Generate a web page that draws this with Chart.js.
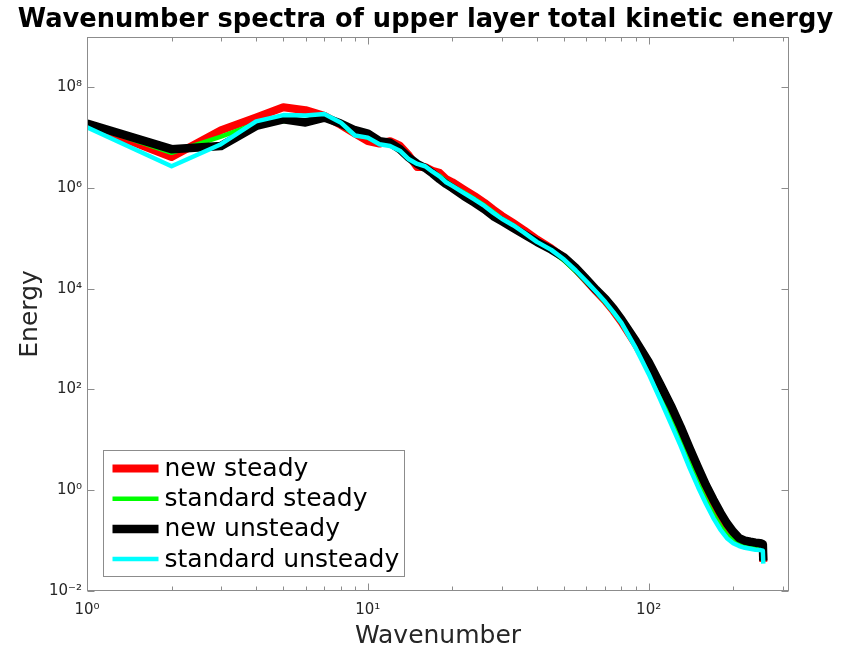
<!DOCTYPE html>
<html>
<head>
<meta charset="utf-8">
<script src="https://cdn.jsdelivr.net/npm/chart.js@4"></script>
<style>
  html, body { margin: 0; padding: 0; background: #ffffff; }
  #wrap { width: 851px; height: 651px; }
</style>
</head>
<body>
<div id="wrap"><canvas id="spectra" width="851" height="651"></canvas></div>
<script>
// Wavenumbers at which the spectra are plotted
const wavenumbers = [1, 2, 3, 4, 5, 6, 7, 8, 9, 10, 11, 12, 13, 14, 15, 16, 17, 18, 19, 20,
  22, 24, 26, 28, 30, 33, 36, 40, 45, 50, 55, 60, 65, 70, 75, 80, 90, 100, 110, 120,
  130, 140, 150, 160, 170, 180, 190, 200, 210, 220, 230, 240, 250, 255, 256];

// Upper layer total kinetic energy for each run
const newSteady = [1.85e7, 4.1e6, 1.4e7, 2.5e7, 4.0e7, 3.5e7, 2.7e7, 1.8e7, 1.2e7, 8.5e6,
  7.6e6, 8.5e6, 6.9e6, 4.4e6, 2.6e6, 2.6e6, 2.2e6, 2.0e6, 1.5e6, 1.3e6,
  9.3e5, 6.9e5, 5.1e5, 3.7e5, 2.8e5, 2.0e5, 1.45e5, 9.5e4, 6.3e4, 4.1e4,
  2.45e4, 1.45e4, 8.9e3, 5.8e3, 3.6e3, 2.2e3, 790, 275, 95, 35,
  13, 4.9, 2.0, 0.95, 0.49, 0.28, 0.18, 0.126, 0.100, 0.089,
  0.083, 0.079, 0.078, 0.076, 0.038];

const standardSteady = [1.85e7, 5.0e6, 1.05e7, 1.9e7, 2.1e7, 2.2e7, 2.4e7, 1.8e7, 1.15e7, 1.0e7,
  7.8e6, 7.2e6, 5.8e6, 3.8e6, 2.9e6, 2.7e6, 2.1e6, 1.75e6, 1.35e6, 1.1e6,
  8.1e5, 6.0e5, 4.5e5, 3.3e5, 2.45e5, 1.8e5, 1.3e5, 8.3e4, 5.6e4, 3.6e4,
  2.2e4, 1.35e4, 8.5e3, 5.4e3, 3.4e3, 2.1e3, 710, 230, 72, 25,
  8.9, 3.3, 1.35, 0.63, 0.33, 0.195, 0.129, 0.100, 0.085, 0.078,
  0.074, 0.071, 0.069, 0.068, 0.040];

const newUnsteady = [1.9e7, 5.9e6, 6.8e6, 1.7e7, 2.3e7, 2.0e7, 2.5e7, 1.9e7, 1.4e7, 1.2e7,
  8.5e6, 7.9e6, 5.9e6, 4.0e6, 3.0e6, 2.5e6, 1.95e6, 1.5e6, 1.2e6, 1.0e6,
  6.9e5, 5.1e5, 3.8e5, 2.75e5, 2.2e5, 1.6e5, 1.2e5, 8.5e4, 6.0e4, 4.2e4,
  2.6e4, 1.55e4, 9.5e3, 6.3e3, 4.0e3, 2.45e3, 910, 350, 126, 48,
  18, 6.8, 2.8, 1.26, 0.65, 0.36, 0.22, 0.15, 0.112, 0.100,
  0.095, 0.091, 0.089, 0.085, 0.040];

const standardUnsteady = [1.6e7, 2.7e6, 7.4e6, 2.1e7, 2.8e7, 2.75e7, 2.95e7, 2.0e7, 1.1e7, 1.0e7,
  7.4e6, 6.8e6, 5.5e6, 3.7e6, 3.0e6, 2.7e6, 2.1e6, 1.7e6, 1.3e6, 1.1e6,
  7.9e5, 5.9e5, 4.4e5, 3.2e5, 2.45e5, 1.8e5, 1.3e5, 8.5e4, 5.9e4, 3.8e4,
  2.3e4, 1.4e4, 8.7e3, 5.5e3, 3.4e3, 2.1e3, 660, 204, 63, 21,
  7.6, 2.75, 1.15, 0.54, 0.28, 0.166, 0.112, 0.089, 0.078, 0.072,
  0.069, 0.066, 0.065, 0.063, 0.035];

const seriesNames = ['new steady', 'standard steady', 'new unsteady', 'standard unsteady'];

// Axis ticks
const xMajorTicks = [1, 10, 100];
const xMinorTicks = [2, 3, 4, 5, 6, 7, 8, 9, 20, 30, 40, 50, 60, 70, 80, 90, 200, 300];
const yMajorTicks = [1e-2, 1e0, 1e2, 1e4, 1e6, 1e8];

const FONT = "'DejaVu Sans', 'Liberation Sans', sans-serif";
const AXIS_GRAY = '#8c8c8c';
const TEXT_DARK = '#262626';

const SUP = { '-': '\u207B', '0': '\u2070', '1': '\u00B9', '2': '\u00B2', '3': '\u00B3',
  '4': '\u2074', '5': '\u2075', '6': '\u2076', '7': '\u2077', '8': '\u2078', '9': '\u2079' };
function powerLabel(v) {
  const e = Math.round(Math.log10(v));
  return '10' + String(e).split('').map(c => SUP[c]).join('');
}

function series(label, values, color, width, order) {
  return {
    label: label,
    data: wavenumbers.map((k, i) => ({ x: k, y: values[i] })),
    borderColor: color,
    backgroundColor: color,
    borderWidth: width,
    pointRadius: 0,
    tension: 0,
    fill: false,
    order: order,
    borderJoinStyle: 'round',
    borderCapStyle: 'butt'
  };
}

// Box, inward ticks on all four sides, and the legend inside the axes
const axesFrame = {
  id: 'axesFrame',
  afterDraw(chart) {
    const ctx = chart.ctx;
    const { left, right, top, bottom } = chart.chartArea;
    const xs = chart.scales.x, ys = chart.scales.y;
    const L = Math.round(left) + 0.5, R = Math.round(right) - 0.5;
    const T = Math.round(top) + 0.5, B = Math.round(bottom) - 0.5;
    ctx.save();
    ctx.strokeStyle = AXIS_GRAY;
    ctx.lineWidth = 1;
    ctx.strokeRect(L, T, R - L, B - T);
    ctx.beginPath();
    const xTick = (v, len) => {
      const p = Math.round(xs.getPixelForValue(v)) + 0.5;
      ctx.moveTo(p, B); ctx.lineTo(p, B - len);
      ctx.moveTo(p, T); ctx.lineTo(p, T + len);
    };
    xMajorTicks.forEach(v => xTick(v, 7));
    xMinorTicks.forEach(v => xTick(v, 4));
    yMajorTicks.forEach(v => {
      const p = Math.round(ys.getPixelForValue(v)) + 0.5;
      ctx.moveTo(L, p); ctx.lineTo(L + 7, p);
      ctx.moveTo(R, p); ctx.lineTo(R - 7, p);
    });
    ctx.stroke();

    // legend
    const ds = chart.data.datasets;
    ctx.font = '25px ' + FONT;
    let maxW = 0;
    ds.forEach(d => { maxW = Math.max(maxW, ctx.measureText(d.label).width); });
    const bx = Math.round(left) + 16 + 0.5;
    const bh = 126;
    const by = Math.round(bottom) - 15 - bh + 0.5;
    const bw = Math.round(61 + maxW + 5);
    ctx.fillStyle = '#ffffff';
    ctx.fillRect(bx, by, bw, bh);
    ctx.strokeStyle = AXIS_GRAY;
    ctx.strokeRect(bx, by, bw, bh);
    ds.forEach((d, i) => {
      const yy = by + 18 + i * 30.2;
      ctx.strokeStyle = d.borderColor;
      ctx.lineWidth = d.borderWidth;
      ctx.lineCap = 'butt';
      ctx.beginPath();
      ctx.moveTo(bx + 9, yy);
      ctx.lineTo(bx + 55, yy);
      ctx.stroke();
      ctx.fillStyle = '#000000';
      ctx.textBaseline = 'middle';
      ctx.textAlign = 'left';
      ctx.fillText(d.label, bx + 61, yy + 1);
    });
    ctx.restore();
  }
};

new Chart(document.getElementById('spectra'), {
  type: 'line',
  data: {
    datasets: [
      series(seriesNames[0], newSteady, '#ff0000', 8, 4),
      series(seriesNames[1], standardSteady, '#00ff00', 4.5, 3),
      series(seriesNames[2], newUnsteady, '#000000', 8.5, 2),
      series(seriesNames[3], standardUnsteady, '#00ffff', 4.5, 1)
    ]
  },
  options: {
    responsive: false,
    animation: false,
    devicePixelRatio: 1,
    layout: { padding: 0 },
    plugins: {
      legend: { display: false },
      tooltip: { enabled: false },
      title: {
        display: true,
        text: 'Wavenumber spectra of upper layer total kinetic energy',
        color: '#000000',
        font: { family: FONT, size: 25.7, weight: 'bold' },
        padding: { top: 5, bottom: 1 }
      }
    },
    scales: {
      x: {
        type: 'logarithmic',
        min: 1,
        max: 316,
        afterBuildTicks: s => { s.ticks = xMajorTicks.map(v => ({ value: v })); },
        afterFit: s => { s.height = 60; },
        grid: { display: false, drawTicks: false },
        border: { display: false },
        ticks: {
          callback: v => powerLabel(v),
          color: TEXT_DARK,
          font: { family: FONT, size: 15 },
          padding: 10,
          maxRotation: 0,
          autoSkip: false
        },
        title: {
          display: true,
          text: 'Wavenumber',
          color: TEXT_DARK,
          font: { family: FONT, size: 25 },
          padding: { top: 0, bottom: 0 }
        }
      },
      y: {
        type: 'logarithmic',
        min: 1e-2,
        max: 1e9,
        afterBuildTicks: s => { s.ticks = yMajorTicks.map(v => ({ value: v })); },
        afterFit: s => { s.width = 87; },
        grid: { display: false, drawTicks: false },
        border: { display: false },
        ticks: {
          callback: v => powerLabel(v),
          color: TEXT_DARK,
          font: { family: FONT, size: 15 },
          padding: 5,
          autoSkip: false
        },
        title: {
          display: true,
          text: 'Energy',
          color: TEXT_DARK,
          font: { family: FONT, size: 25 },
          padding: { top: 15, bottom: 0 }
        }
      },
      // empty right-hand margin beside the axes box
      yRight: {
        type: 'linear',
        position: 'right',
        min: 0,
        max: 1,
        afterFit: s => { s.width = 62; },
        grid: { display: false, drawTicks: false },
        border: { display: false },
        ticks: { display: false }
      }
    }
  },
  plugins: [axesFrame]
});
</script>
</body>
</html>
